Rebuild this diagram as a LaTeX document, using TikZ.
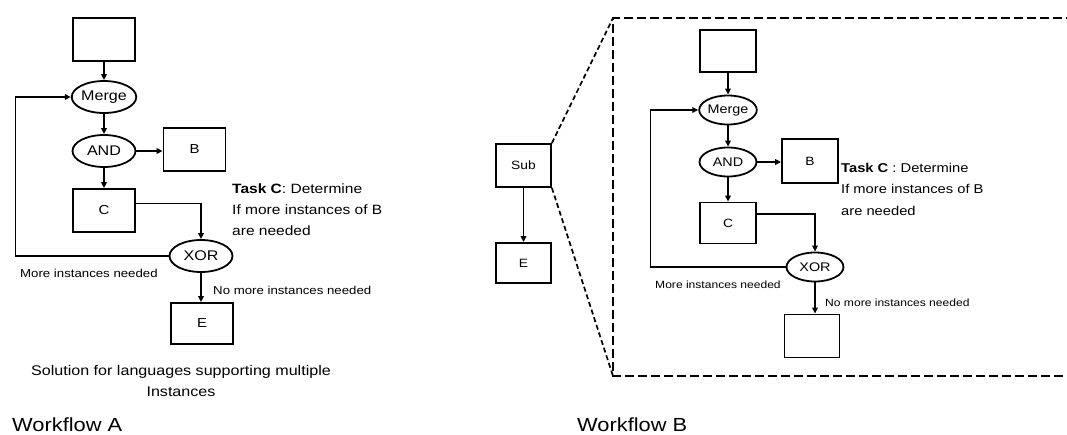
\documentclass[tikz,border=0pt]{standalone}
\usepackage{fontspec}
\setmainfont{Liberation Sans}[FakeStretch=1.15]
\usetikzlibrary{shapes.geometric,arrows.meta}
\newcommand\fsz[2]{\fontsize{#1}{#2}\selectfont}
\tikzset{
  arr/.style={line width=1.5pt,-{Triangle[length=6pt,width=5.5pt]}},
  boxA/.style={draw,line width=1.8pt,minimum width=62,minimum height=43,inner sep=0,font=\fsz{13}{15}},
  gateA/.style={draw,ellipse,line width=1.8pt,minimum width=63,minimum height=32,inner sep=0,font=\fsz{14}{16}},
  boxB/.style={draw,line width=1.8pt,minimum width=56,minimum height=42,inner sep=0,font=\fsz{12}{14}},
  gateB/.style={draw,ellipse,line width=1.8pt,minimum width=57,minimum height=29,inner sep=0,font=\fsz{12.5}{14}},
  zoomline/.style={line width=1.7pt,dash pattern=on 9pt off 4pt},
  lbl/.style={inner sep=0,font=\fsz{11.5}{14}},
  lblB/.style={inner sep=0,font=\fsz{10.5}{13}},
  title/.style={inner sep=0,anchor=base west,font=\fsz{19}{22}},
}
\begin{document}
\begin{tikzpicture}[x=1pt,y=-1pt]
\useasboundingbox (0,0) rectangle (1067,434);
% ---------------- Workflow A ----------------
\node[boxA] (topA) at (104,39.5) {};
\node[gateA] (mergeA) at (104,97) {Merge};
\node[gateA] (andA) at (104,151) {AND};
\node[boxA] (bA) at (194.5,149.5) {B};
\node[boxA] (cA) at (104,210.5) {C};
\node[gateA] (xorA) at (201,256) {XOR};
\node[boxA,minimum height=41] (eA) at (202,323.5) {E};

\draw[arr] (topA.south) -- (mergeA.north);
\draw[arr] (mergeA.south) -- (andA.north);
\draw[arr] (andA.south) -- (cA.north);
\draw[arr] (andA.east) -- (bA.west |- andA.east);
\draw[arr] ([yshift=7pt]cA.east) -| (xorA.north);
\draw[arr] (xorA.west) -- ++(-153,0) |- (mergeA.west);
\draw[arr] (xorA.south) -- (xorA.south |- eA.north);

\node[inner sep=0,anchor=north west,align=left,font=\fsz{13.5}{21}] (taskA) at (232,184)
  {\textbf{Task C}: Determine\\If more instances of B\\are needed};
\node[lbl,anchor=west] (moreA) at (20,273) {More instances needed};
\node[lbl,anchor=west] (nomoreA) at (213,290) {No more instances needed};
\node[inner sep=0,align=center,font=\fsz{14}{21}] (solA) at (181,381)
  {Solution for languages supporting multiple\\Instances};
\node[title] (wfA) at (12,431) {Workflow A};

% ---------------- Workflow B ----------------
\node[boxB,minimum width=55,minimum height=43] (sub) at (523.5,165.5) {Sub};
\node[boxB,minimum width=55,minimum height=40] (eB) at (523.5,263) {E};
\draw[arr] (sub.south) -- (eB.north);

\coordinate (dTL) at (613,18);
\coordinate (dBL) at (613,376);
\coordinate (dTR) at (1075,18);
\coordinate (dBR) at (1075,376);
\draw[zoomline] (dTR) -- (dTL) -- (dBL) -- (dBR);
\draw[zoomline,dash pattern=on 5pt off 3pt] (sub.north east) -- (dTL);
\draw[zoomline,dash pattern=on 5pt off 3pt] (sub.south east) -- (dBL);

\node[boxB] (topB) at (728,51) {};
\node[gateB] (mergeB) at (728,110) {Merge};
\node[gateB] (andB) at (728,162) {AND};
\node[boxB,minimum height=44] (bB) at (810,161) {B};
\node[boxB,minimum height=41] (cB) at (728,223) {C};
\node[gateB] (xorB) at (815,267) {XOR};
\node[boxB,minimum width=55,minimum height=43] (botB) at (812,336) {};

\draw[arr] (topB.south) -- (mergeB.north);
\draw[arr] (mergeB.south) -- (andB.north);
\draw[arr] (andB.south) -- (cB.north);
\draw[arr] (andB.east) -- (bB.west |- andB.east);
\draw[arr] ([yshift=9pt]cB.east) -| (xorB.north);
\draw[arr] (xorB.west) -- ++(-135,0) |- (mergeB.west);
\draw[arr] (xorB.south) -- (xorB.south |- botB.north);

\node[inner sep=0,anchor=north west,align=left,font=\fsz{12.8}{21.5}] (taskB) at (841,163)
  {\textbf{Task C} : Determine\\If more instances of B\\are needed};
\node[lblB,anchor=west] (moreB) at (655,285) {More instances needed};
\node[lblB,anchor=west] (nomoreB) at (825,303) {No more instances needed};
\node[title] (wfB) at (577,431) {Workflow B};
\end{tikzpicture}
\end{document}
